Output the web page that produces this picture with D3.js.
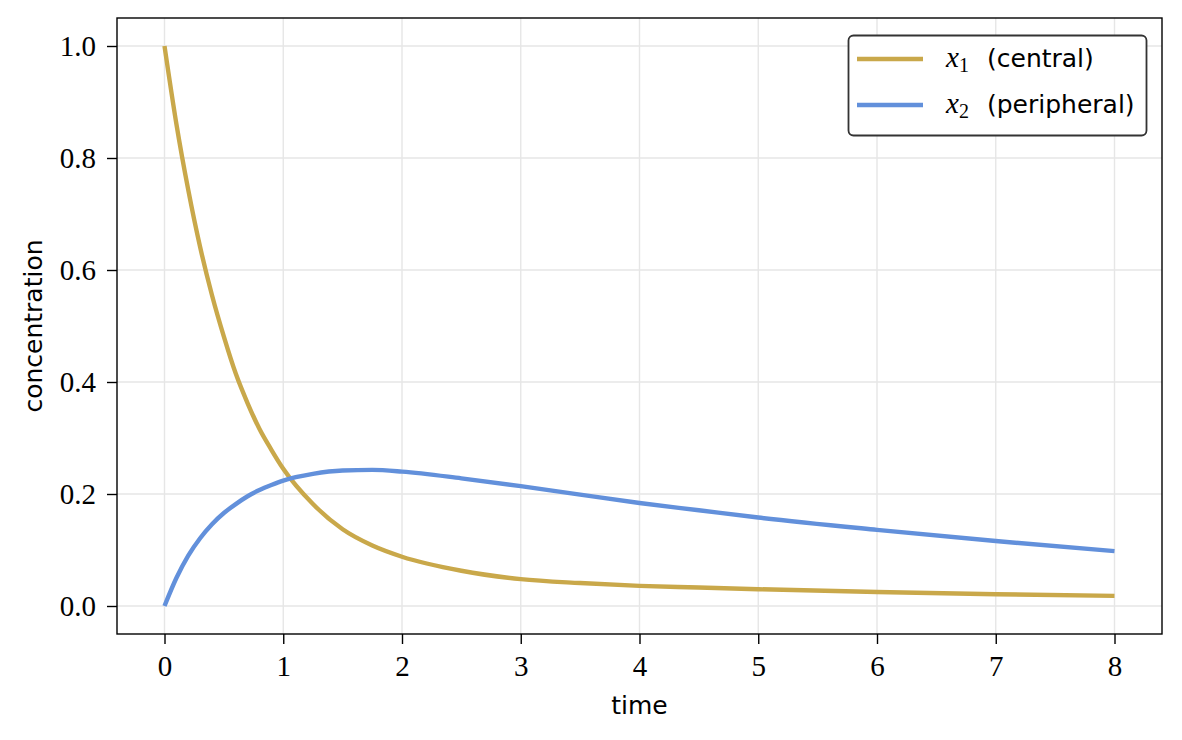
<!DOCTYPE html>
<html>
<head>
<meta charset="utf-8">
<script src="https://cdn.jsdelivr.net/npm/d3@7/dist/d3.min.js"></script>
<style>
  html, body { margin: 0; padding: 0; background: #fff; }
  svg { display: block; }
</style>
</head>
<body>
<svg id="chart" width="1182" height="740"></svg>
<script>
// ---- data ----
const timeCentral = [0, 0.1, 0.2, 0.3, 0.4, 0.5, 0.6, 0.7, 0.8, 0.9, 1.0, 1.25, 1.5, 1.75, 2.0, 2.5, 3.0, 3.5, 4.0, 4.5, 5.0, 6.0, 7.0, 8.0];
const central     = [1.000, 0.861, 0.743, 0.641, 0.555, 0.481, 0.415, 0.362, 0.316, 0.279, 0.245, 0.182, 0.137, 0.108, 0.088, 0.063, 0.048, 0.041, 0.036, 0.033, 0.030, 0.025, 0.021, 0.018];
const timePeripheral = [0, 0.1, 0.2, 0.3, 0.4, 0.5, 0.6, 0.7, 0.8, 0.9, 1.0, 1.25, 1.5, 1.75, 2.0, 2.5, 3.0, 3.5, 4.0, 4.5, 5.0, 6.0, 7.0, 8.0];
const peripheral     = [0, 0.05, 0.09, 0.121, 0.146, 0.166, 0.182, 0.196, 0.207, 0.216, 0.224, 0.236, 0.242, 0.243, 0.240, 0.228, 0.214, 0.199, 0.184, 0.171, 0.158, 0.136, 0.116, 0.098];
const xTicks = [0, 1, 2, 3, 4, 5, 6, 7, 8];
const yTicks = [0.0, 0.2, 0.4, 0.6, 0.8, 1.0];
const seriesNames = ["central", "peripheral"];
const seriesSubs = ["1", "2"];
const seriesColors = ["#c9a84a", "#6290db"];

// ---- layout ----
const svg = d3.select("#chart");
const L = 117, R = 1162, T = 18, B = 634;
const x = d3.scaleLinear().domain([-0.4, 8.4]).range([L, R]);
const y = d3.scaleLinear().domain([-0.05, 1.05]).range([B, T]);

const serif = "'Liberation Serif', 'Times New Roman', serif";
const sans = "'DejaVu Sans', sans-serif";

// grid
const grid = svg.append("g").attr("stroke", "#e6e6e6").attr("stroke-width", 1.4);
grid.selectAll("line.gx").data(xTicks).enter().append("line")
  .attr("x1", d => x(d)).attr("x2", d => x(d)).attr("y1", T).attr("y2", B);
grid.selectAll("line.gy").data(yTicks).enter().append("line")
  .attr("x1", L).attr("x2", R).attr("y1", d => y(d)).attr("y2", d => y(d));

// lines
const series = [
  { t: timeCentral, v: central },
  { t: timePeripheral, v: peripheral }
];
const lineGen = d3.line().x(d => x(d[0])).y(d => y(d[1])).curve(d3.curveMonotoneX);
series.forEach((s, i) => {
  svg.append("path")
    .datum(s.t.map((t, k) => [t, s.v[k]]))
    .attr("fill", "none")
    .attr("stroke", seriesColors[i])
    .attr("stroke-width", 4.4)
    .attr("stroke-linejoin", "round")
    .attr("d", lineGen);
});

// axes
const xAxis = svg.append("g").attr("transform", `translate(0,${B})`)
  .call(d3.axisBottom(x).tickValues(xTicks).tickFormat(d3.format("d")).tickSize(10).tickPadding(11));
const yAxis = svg.append("g").attr("transform", `translate(${L},0)`)
  .call(d3.axisLeft(y).tickValues(yTicks).tickFormat(d3.format(".1f")).tickSize(10).tickPadding(11));
[xAxis, yAxis].forEach(a => {
  a.select(".domain").remove();
  a.selectAll(".tick line").attr("stroke", "#000").attr("stroke-width", 1.4);
  a.selectAll(".tick text").attr("fill", "#000").style("font-family", serif).style("font-size", "29px");
});

// frame
svg.append("rect").attr("x", L).attr("y", T).attr("width", R - L).attr("height", B - T)
  .attr("fill", "none").attr("stroke", "#000").attr("stroke-width", 1.4);

// axis labels
svg.append("text").attr("x", (L + R) / 2).attr("y", 714).attr("text-anchor", "middle")
  .style("font-family", sans).style("font-size", "25px").attr("fill", "#000").text("time");
svg.append("text").attr("transform", `translate(42,${(T + B) / 2}) rotate(-90)`).attr("text-anchor", "middle")
  .style("font-family", sans).style("font-size", "25px").attr("fill", "#000").text("concentration");

// legend
const lg = svg.append("g");
lg.append("rect").attr("x", 848.5).attr("y", 35.5).attr("width", 298).attr("height", 100)
  .attr("rx", 5).attr("ry", 5).attr("fill", "#fff").attr("stroke", "#333").attr("stroke-width", 1.8);
seriesNames.forEach((name, i) => {
  const cy = 59 + i * 46;
  lg.append("line").attr("x1", 857).attr("x2", 923).attr("y1", cy).attr("y2", cy)
    .attr("stroke", seriesColors[i]).attr("stroke-width", 4.4);
  const t = lg.append("text").attr("x", 946).attr("y", cy + 8).attr("fill", "#000");
  t.append("tspan").style("font-family", serif).style("font-style", "italic").style("font-size", "29px").text("x");
  t.append("tspan").attr("dy", 5).style("font-family", serif).style("font-size", "20px").text(seriesSubs[i]);
  t.append("tspan").attr("x", 987).attr("dy", -5).style("font-family", sans).style("font-size", "25px").text(`(${name})`);
});
</script>
</body>
</html>
